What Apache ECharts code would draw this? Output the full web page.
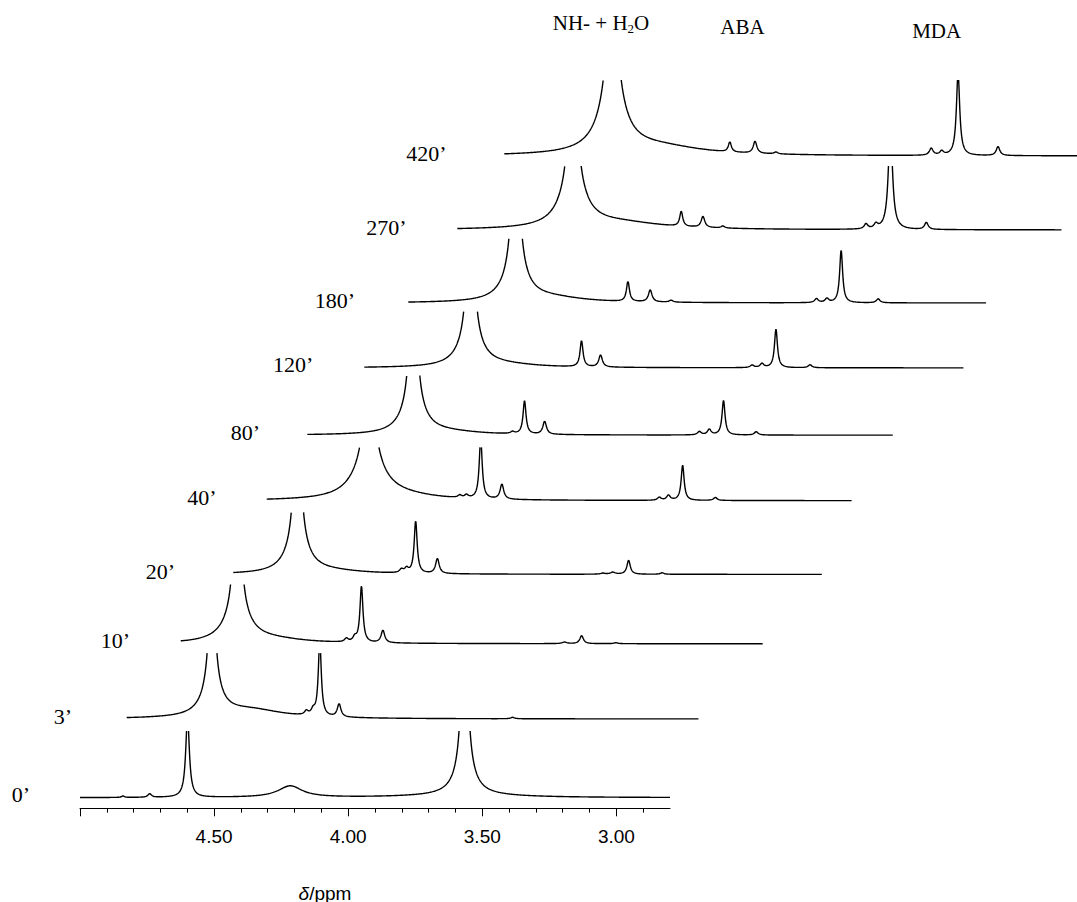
<!DOCTYPE html>
<html>
<head>
<meta charset="utf-8">
<script src="https://cdn.jsdelivr.net/npm/echarts@6/dist/echarts.min.js"></script>
<style>
  html, body { margin: 0; padding: 0; background: #fff; }
  #chart { width: 1077px; height: 902px; }
</style>
</head>
<body>
<div id="chart"></div>
<script>
// Reaction time of each 1H NMR trace (minutes), bottom trace first
const times = [0, 3, 10, 20, 40, 80, 120, 180, 270, 420];

// Spectral window of each trace (ppm)
const windowStart = [5.00, 5.00, 5.00, 5.00, 5.00, 5.00, 5.00, 5.00, 5.00, 5.00];
const windowEnd   = [2.80, 2.868, 2.828, 2.803, 2.818, 2.816, 2.764, 2.844, 2.746, 2.70];

// Peak lists: [shift (ppm), height, half width at half height (ppm)]
const peaks0 = [
  [4.840, 1.5, 0.006], [4.740, 3.5, 0.008], [4.599, 80, 0.0082], [4.216, 11.5, 0.055],
  [3.566, 198, 0.0112], [3.566, 25, 0.0373], [3.566, 2.5, 0.22]
];
const peaks3 = [
  [4.682, 136, 0.0112], [4.682, 30, 0.0373], [4.540, 9, 0.15],
  [4.330, 4, 0.008], [4.305, 5, 0.008], [4.280, 75, 0.0067], [4.208, 13, 0.008],
  [3.561, 1.5, 0.008]
];
const peaks10 = [
  [4.789, 200, 0.0112], [4.789, 30, 0.052], [4.66, 4, 0.15],
  [4.382, 3.5, 0.008], [4.351, 4.5, 0.008], [4.326, 56, 0.0067], [4.246, 12.5, 0.008],
  [3.569, 1.5, 0.01], [3.505, 8, 0.008], [3.377, 1, 0.008]
];
const peaks20 = [
  [4.761, 190, 0.0112], [4.761, 30, 0.045], [4.64, 3, 0.15],
  [4.373, 3.5, 0.008], [4.354, 4.5, 0.008], [4.320, 52, 0.0067], [4.239, 15, 0.008],
  [3.622, 1, 0.01], [3.585, 2, 0.01], [3.526, 14, 0.0075], [3.401, 1.5, 0.008]
];
const peaks40 = [
  [4.618, 206, 0.0112], [4.618, 45, 0.06], [4.49, 4, 0.15],
  [4.280, 2.5, 0.008], [4.255, 3, 0.008], [4.202, 60, 0.0067], [4.123, 15, 0.008],
  [3.536, 3, 0.008], [3.502, 5, 0.008], [3.449, 35, 0.0067], [3.327, 3, 0.008]
];
const peaks80 = [
  [4.605, 200, 0.0112], [4.605, 30, 0.045], [4.48, 3, 0.15],
  [4.235, 2, 0.008], [4.190, 33, 0.0067], [4.115, 13, 0.008],
  [3.538, 3.4, 0.008], [3.501, 5.5, 0.008], [3.448, 34.5, 0.0067], [3.326, 3.4, 0.008]
];
const peaks120 = [
  [4.604, 200, 0.0112], [4.604, 30, 0.045], [4.48, 3, 0.15],
  [4.190, 26, 0.0067], [4.119, 12, 0.008],
  [3.554, 2.5, 0.008], [3.517, 4, 0.008], [3.465, 38.5, 0.0067], [3.338, 3, 0.008]
];
const peaks180 = [
  [4.600, 220, 0.0112], [4.600, 33, 0.045], [4.47, 5, 0.15],
  [4.181, 20, 0.0067], [4.098, 12, 0.008], [4.020, 2, 0.008],
  [3.478, 4, 0.008], [3.439, 4, 0.008], [3.386, 52.5, 0.0067], [3.248, 4, 0.008]
];
const peaks270 = [
  [4.569, 230, 0.0112], [4.569, 45, 0.05], [4.40, 7, 0.2],
  [4.165, 15, 0.0067], [4.084, 11, 0.008], [4.010, 2, 0.008],
  [3.476, 5, 0.008], [3.439, 4.5, 0.008], [3.385, 105, 0.009], [3.251, 7, 0.008]
];
const peaks420 = [
  [4.598, 260, 0.0112], [4.598, 65, 0.05], [4.43, 9, 0.2],
  [4.159, 10, 0.0067], [4.065, 12, 0.008], [3.987, 2, 0.008],
  [3.408, 7, 0.008], [3.369, 4, 0.008], [3.308, 82, 0.0075], [3.159, 9, 0.008]
];
const peakLists = [peaks0, peaks3, peaks10, peaks20, peaks40, peaks80, peaks120, peaks180, peaks270, peaks420];

// Chemical shift axis
const axisMin = 2.80, axisMax = 5.00;
const tickLabelValues = [4.50, 4.00, 3.50, 3.00];
const majorTickValues = [5.00, 4.50, 4.00, 3.50, 3.00];
const minorTickValues = [4.90, 4.80, 4.70, 4.60, 4.40, 4.30, 4.20, 4.10, 3.90, 3.80, 3.70, 3.60, 3.40, 3.30, 3.20, 3.10, 2.90];

// Signal assignments written above the top trace
const assignments = ['{n|NH- + H}{s|2}{n|O}', 'ABA', 'MDA'];

// ---- layout (pixels) ----
const W = 1077, H = 902;
const axisLeft = 80, axisWidth = 590, axisY = 808.3;
const pxPerPpm = axisWidth / (axisMax - axisMin);
const traceLeft  = [80, 126.7, 180.7, 233.3, 266.7, 307.3, 364.3, 408.3, 457.3, 504.3];
const traceBase  = [797.7, 719, 643.8, 574.4, 500.7, 435.2, 367.9, 303, 230, 156];
const traceClip  = [66.7, 65.9, 59.3, 62, 53.3, 59.7, 56.3, 64.2, 64, 76];
const labelRight = [30, 72, 130, 175, 216.7, 260, 313.3, 355, 406.7, 446.7];
const assignPos  = [[601, 23], [742.5, 27], [936.7, 31]];

const serif = '"Liberation Serif", "Times New Roman", serif';
const sans = '"Liberation Sans", Arial, sans-serif';

// Sum of Lorentzian lines
function intensity(peaks, x) {
  let s = 0;
  for (const [c, h, g] of peaks) {
    const d = (x - c) / g;
    s += h / (1 + d * d);
  }
  return s;
}

// One trace: shifted right/up for the stacked view, truncated at its clip level
function buildTrace(i) {
  const peaks = peakLists[i];
  const shift = (traceLeft[i] - axisLeft) / pxPerPpm;
  const lift = axisY - traceBase[i];
  const clip = traceClip[i];
  const step = 0.0005;
  const n = Math.round((windowStart[i] - windowEnd[i]) / step);
  const pts = [];
  let prevX = null, prevY = null;
  for (let k = 0; k <= n; k++) {
    const x = windowStart[i] - k * step;
    const y = intensity(peaks, x);
    if (prevX !== null && (prevY <= clip) !== (y <= clip)) {
      let a = prevX, b = x;
      const below = prevY <= clip;
      for (let it = 0; it < 40; it++) {
        const m = (a + b) / 2;
        if ((intensity(peaks, m) <= clip) === below) a = m; else b = m;
      }
      const xc = (a + b) / 2;
      pts.push([xc - shift, clip + lift]);
      if (below) pts.push([xc - shift, '-']);
    }
    if (y <= clip) pts.push([x - shift, y + lift]);
    prevX = x; prevY = y;
  }
  return pts;
}

const chart = echarts.init(document.getElementById('chart'), null, { renderer: 'svg', width: W, height: H });

const plotHeight = axisY;
const fullMax = axisMax + axisLeft / pxPerPpm;
const fullMin = axisMax - (W - axisLeft) / pxPerPpm;

const series = times.map((t, i) => ({
  type: 'line',
  name: t + '\u2019',
  xAxisIndex: 0,
  yAxisIndex: 0,
  data: buildTrace(i),
  showSymbol: false,
  symbol: 'none',
  connectNulls: false,
  silent: true,
  lineStyle: { color: '#000', width: 1.4 },
  z: 2
}));

const graphics = [];
times.forEach((t, i) => {
  graphics.push({
    type: 'text',
    x: labelRight[i],
    y: traceBase[i] - 3,
    silent: true,
    style: {
      text: t + '\u2019',
      align: 'right',
      verticalAlign: 'middle',
      font: '22px ' + serif,
      fill: '#000'
    }
  });
});
assignments.forEach((txt, j) => {
  graphics.push({
    type: 'text',
    x: assignPos[j][0],
    y: assignPos[j][1],
    silent: true,
    style: {
      text: j === 0 ? txt : '{n|' + txt + '}',
      align: 'center',
      verticalAlign: 'middle',
      fill: '#000',
      rich: {
        n: { fontSize: 21, fontFamily: serif, lineHeight: 24, fill: '#000' },
        s: { fontSize: 13, fontFamily: serif, lineHeight: 13, verticalAlign: 'bottom', fill: '#000' }
      }
    }
  });
});
graphics.push({
  type: 'text',
  x: 325,
  y: 893,
  silent: true,
  style: {
    text: '{i|\u03b4}{r|/ppm}',
    align: 'center',
    verticalAlign: 'middle',
    fill: '#000',
    rich: {
      i: { fontSize: 19, fontFamily: sans, fontStyle: 'italic', fill: '#000' },
      r: { fontSize: 19, fontFamily: sans, fill: '#000' }
    }
  }
});

chart.setOption({
  animation: false,
  backgroundColor: '#fff',
  grid: [
    { left: 0, top: 0, width: W, height: plotHeight },
    { left: axisLeft, top: 0, width: axisWidth, height: plotHeight }
  ],
  xAxis: [
    { type: 'value', gridIndex: 0, min: fullMin, max: fullMax, inverse: true, show: false },
    {
      type: 'value', gridIndex: 1, min: axisMin, max: axisMax, inverse: true, position: 'bottom',
      axisLine: { show: true, onZero: false, lineStyle: { color: '#000', width: 1 } },
      axisTick: { show: true, customValues: majorTickValues, length: 8, lineStyle: { color: '#000', width: 1 } },
      axisLabel: {
        show: true, customValues: tickLabelValues, margin: 19,
        formatter: v => v.toFixed(2), fontSize: 19, fontFamily: sans, color: '#000'
      },
      splitLine: { show: false }
    },
    {
      type: 'value', gridIndex: 1, min: axisMin, max: axisMax, inverse: true, position: 'bottom',
      axisLine: { show: false },
      axisTick: { show: true, customValues: minorTickValues, length: 4.3, lineStyle: { color: '#000', width: 1 } },
      axisLabel: { show: false },
      splitLine: { show: false }
    }
  ],
  yAxis: [
    { type: 'value', gridIndex: 0, min: 0, max: plotHeight, show: false },
    { type: 'value', gridIndex: 1, min: 0, max: plotHeight, show: false }
  ],
  series: series,
  graphic: graphics
});
</script>
</body>
</html>
